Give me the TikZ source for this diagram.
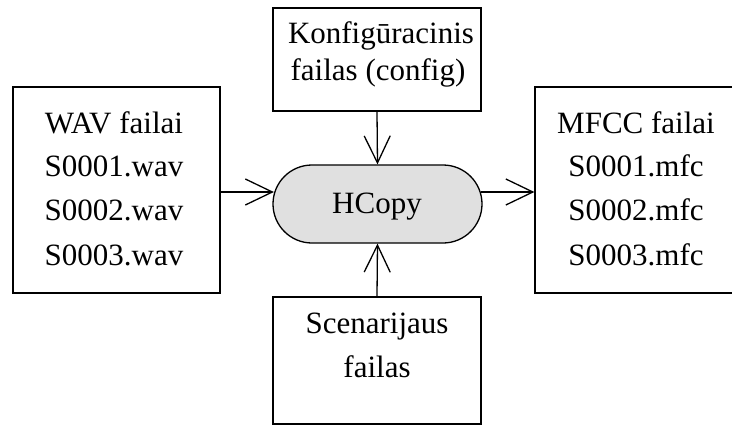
\documentclass[tikz,border=0pt]{standalone}
\usepackage{fontspec}
\setmainfont{Liberation Serif}
\usetikzlibrary{arrows.meta,shapes.misc}
\begin{document}
\begin{tikzpicture}[x=1pt,y=-1pt,
  box/.style={draw,line width=1.3pt,rectangle,inner sep=0pt},
  lbl/.style={anchor=base,inner sep=0pt,font=\fontsize{31}{36}\selectfont},
  arr/.style={line width=1.3pt,-{Straight Barb[length=27pt,width=26pt,line width=1.3pt]}}]
\useasboundingbox (0,0) rectangle (732,426);
\clip (0,0) rectangle (732,426);
% boxes
\node[box,minimum width=207pt,minimum height=206pt] (left) at (116.5,190) {};
\node[box,minimum width=208pt,minimum height=103pt] (top) at (377,59.5) {};
\node[box,minimum width=208pt,minimum height=127pt] (bot) at (377,360.5) {};
\node[box,minimum width=205pt,minimum height=206pt] (right) at (637.5,190) {};
\node[draw,line width=1.3pt,fill=black!12,rounded rectangle,minimum width=209pt,minimum height=78pt,inner sep=0pt] (hc) at (377.5,204) {};
% texts
\node[lbl] (l1) at (114,133) {WAV failai};
\node[lbl] (l2) at (114,176) {S0001.wav};
\node[lbl] (l3) at (114,220) {S0002.wav};
\node[lbl] (l4) at (114,265) {S0003.wav};
\node[lbl] (r1) at (636,133) {MFCC failai};
\node[lbl] (r2) at (636,176) {S0001.mfc};
\node[lbl] (r3) at (636,220) {S0002.mfc};
\node[lbl] (r4) at (636,265) {S0003.mfc};
\node[lbl] (t1) at (381,43) {Konfigūracinis};
\node[lbl] (t2) at (378,80) {failas (config)};
\node[lbl] (b1) at (377,333) {Scenarijaus};
\node[lbl] (b2) at (377,377) {failas};
\node[lbl] (hct) at (377,213) {HCopy};
% connectors
\draw[arr] (left.east |- 0,192) -- ([yshift=12pt,xshift=1.5pt]hc.west);
\draw[arr] ([yshift=12pt,xshift=-1.5pt]hc.east) -- (right.west |- 0,192);
\draw[arr] (top.south) -- (hc.north);
\draw[arr] (bot.north) -- (hc.south);
\end{tikzpicture}
\end{document}
